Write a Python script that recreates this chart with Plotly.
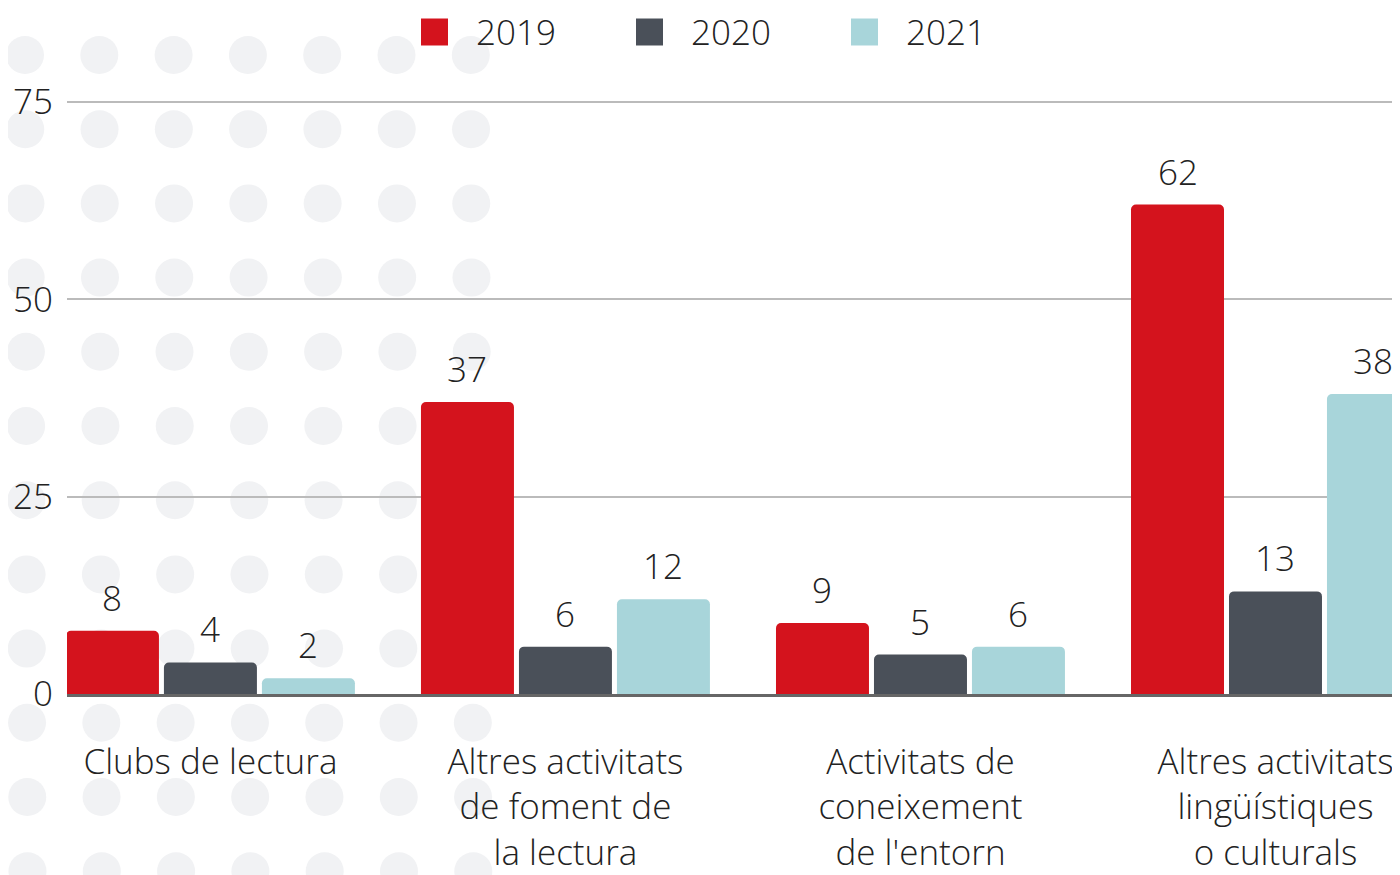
import plotly.graph_objects as go

categories = [
    "Clubs de lectura",
    "Altres activitats<br>de foment de<br>la lectura",
    "Activitats de<br>coneixement<br>de l'entorn",
    "Altres activitats<br>lingüístiques<br>o culturals",
]
years = ["2019", "2020", "2021"]
values_2019 = [8, 37, 9, 62]
values_2020 = [4, 6, 5, 13]
values_2021 = [2, 12, 6, 38]
y_ticks = [0, 25, 50, 75]

colors = ["#d4131d", "#4a5059", "#a8d5da"]
series = [values_2019, values_2020, values_2021]

# the page places the figure 8px from the top-left corner of the window
OFF = 8
W, H = 1384, 867
ML, MR, MT, MB = 59, 0, 72, 181
PW, PH = W - ML - MR, H - MT - MB
FONT = "Open Sans"
FS = 35
TXT = "#222222"
BARGAP, GROUPGAP = 0.172, 0.051
X_RANGE = [-0.404, (1392 - 210.5) / 355]
Y_RANGE = [0, 614 / (592 / 75)]

def px_x(X):  # window pixel -> paper x
    return (X - OFF - ML) / PW

def px_y(Y):  # window pixel -> paper y
    return (H - MB - (Y - OFF)) / PH

xs = list(range(len(categories)))
fig = go.Figure()
for name, vals, col in zip(years, series, colors):
    fig.add_trace(go.Bar(
        x=xs, y=vals, name=name,
        marker=dict(color=col, line=dict(width=0), cornerradius=5),
        showlegend=False, hoverinfo="x+y+name",
    ))

annotations = []
# value labels above each bar (positioned through the axes, shifted by the group slot)
px_per_cat = PW / (X_RANGE[1] - X_RANGE[0])
slot = (1 - BARGAP) * px_per_cat / len(series)
for k, vals in enumerate(series):
    shift = (k - (len(series) - 1) / 2) * slot
    for xi, v in zip(xs, vals):
        annotations.append(dict(x=xi, y=v, xref="x", yref="y", text=str(v),
                                showarrow=False, xanchor="center", yanchor="bottom",
                                xshift=shift, yshift=8,
                                font=dict(family=FONT, size=FS, color=TXT, weight=300)))

shapes = []
# decorative dot pattern in the background
r = 19
for j in range(-1, 12):
    cy = 55 + 74.2 * j
    for i in range(7):
        cx = 25 + 74.3 * i + (cy - 55) / 820 * 2.5
        shapes.append(dict(type="circle", xref="paper", yref="paper",
                           x0=px_x(cx - r), x1=px_x(cx + r),
                           y0=px_y(cy + r), y1=px_y(cy - r),
                           fillcolor="#f1f2f4", line=dict(width=0), layer="below"))

# legend
leg_x = [421, 636, 851]
LEG_Y = 32
for name, col, lx in zip(years, colors, leg_x):
    shapes.append(dict(type="rect", xref="paper", yref="paper",
                       x0=px_x(lx), x1=px_x(lx + 27),
                       y0=px_y(LEG_Y + 13.5), y1=px_y(LEG_Y - 13.5),
                       fillcolor=col, line=dict(width=0)))
    annotations.append(dict(xref="paper", yref="paper", x=px_x(lx + 53), y=px_y(LEG_Y),
                            xanchor="left", yanchor="middle", text=name, showarrow=False,
                            font=dict(family=FONT, size=FS, color=TXT, weight=300)))

fig.update_layout(
    width=W, height=H,
    margin=dict(l=ML, r=MR, t=MT, b=MB, pad=0),
    paper_bgcolor="white", plot_bgcolor="rgba(0,0,0,0)",
    barmode="group", bargap=BARGAP, bargroupgap=GROUPGAP,
    font=dict(family=FONT, size=FS, color=TXT, weight=300),
    shapes=shapes, annotations=annotations,
    xaxis=dict(
        tickmode="array", tickvals=xs, ticktext=categories,
        range=X_RANGE, showgrid=False, zeroline=False,
        showline=True, linecolor="#666666", linewidth=2.5, layer="below traces",
        ticks="", ticklabelstandoff=35, ticklabeloverflow="allow",
        tickfont=dict(family=FONT, size=FS, color=TXT, weight=300),
    ),
    yaxis=dict(
        tickmode="array", tickvals=y_ticks, range=Y_RANGE,
        showgrid=True, gridcolor="#bbbbbb", gridwidth=2.2, zeroline=False,
        showline=False, ticks="", ticklabelstandoff=13, layer="below traces",
        tickfont=dict(family=FONT, size=FS, color=TXT, weight=300),
    ),
)

fig.write_html("out.html")
